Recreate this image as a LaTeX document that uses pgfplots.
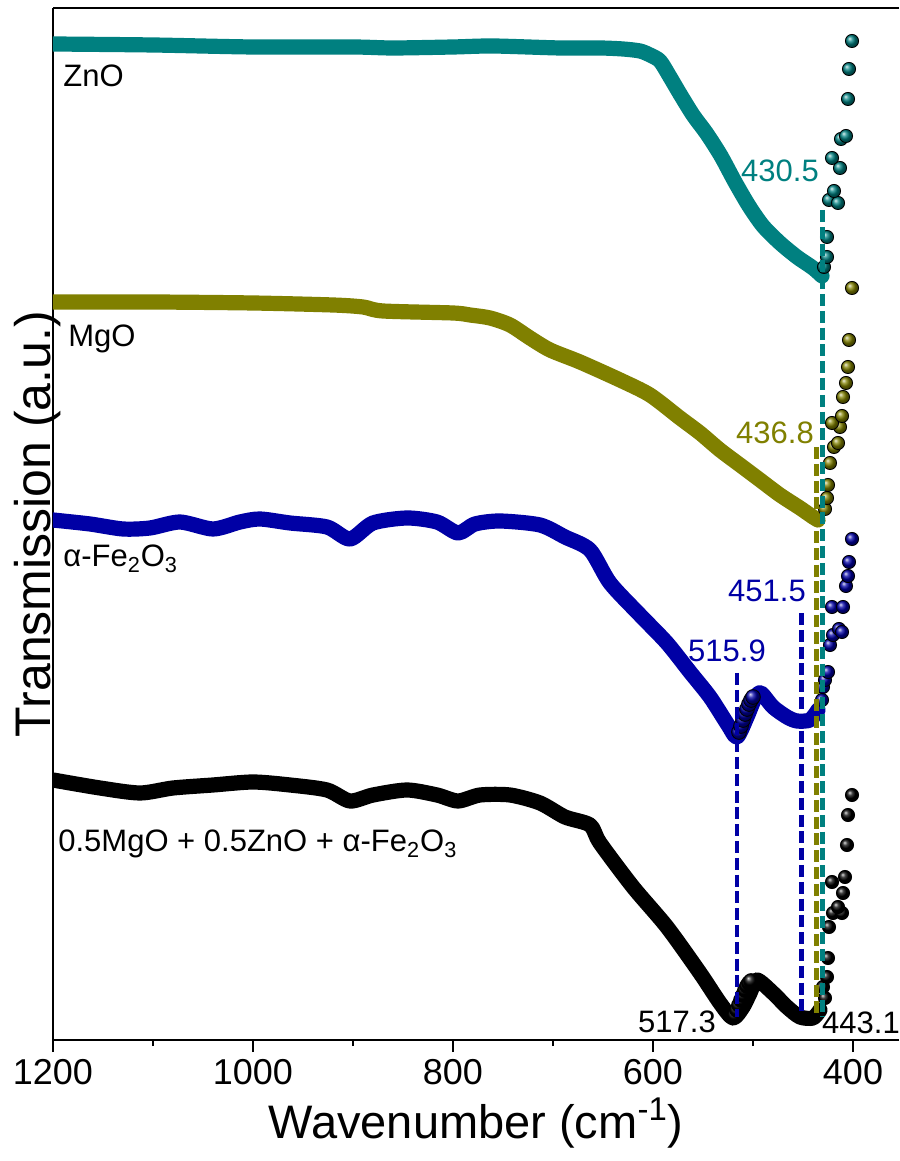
\documentclass[border=0pt]{standalone}
\usepackage{fontspec}
\setmainfont{Liberation Sans}
\usepackage{pgfplots}
\pgfplotsset{compat=1.18}

\definecolor{zno}{RGB}{0,128,128}
\definecolor{mgo}{RGB}{128,128,0}
\definecolor{fe}{RGB}{0,0,165}

\newcommand{\lblfont}{\fontsize{15.5}{17}\selectfont}

\begin{document}
\begin{tikzpicture}
\begin{axis}[
  at={(0,0)}, anchor=south west,
  scale only axis, width=423pt, height=516pt,
  x dir=reverse, xmin=354, xmax=1200, ymin=0, ymax=1032,
  axis x line*=box, axis y line*=left,
  xtick pos=left,
  xtick={400,600,800,1000,1200}, minor xtick={500,700,900,1100},
  ytick=\empty,
  tick align=outside,
  major tick length=6pt, minor tick length=3pt,
  every tick/.style={black, line width=1pt},
  axis line style={line width=1pt},
  /pgf/number format/assume math mode=true,
  /pgf/number format/1000 sep={},
  xticklabel style={font=\fontsize{18}{18}\selectfont},
  xlabel={Wavenumber (cm\textsuperscript{-1})},
  xlabel style={font=\fontsize{23.5}{24}\selectfont},
  ylabel={Transmission (a.u.)},
  ylabel style={font=\fontsize{25}{26}\selectfont, at={(axis description cs:-0.0025,0.5)}, anchor=base},
  clip mode=individual,
  curve/.style={line width=7.6pt, line join=round, line cap=round, smooth, tension=0.45},
  peak/.style={line width=2.3pt, dash pattern=on 6pt off 2.4pt},
  balls/.style={only marks, mark=ball, mark size=3.3pt},
]

% ---- ZnO ----
\addplot[curve, zno] coordinates {
 (1200,996) (1100,995) (1000,993) (900,993) (860,992)
 (800,993) (760,994) (693,992) (653,992) (630,991) (613,989) (603,985)
 (593,979) (583,963) (573,946) (560,925) (546,906) (532,884) (518,858)
 (504,834) (490,814) (473,797) (456,783) (440,772) (431,764)};
\addplot[balls, mark options={ball color=zno}] coordinates {
 (429,773) (426,783) (426,803) (424,840) (415,837) (419,849) (413,872)
 (421,882) (412,901) (407,904) (405,941) (404,971) (401,999)};

% ---- MgO ----
\addplot[curve, mgo] coordinates {
 (1200,738) (1100,738) (1000,737) (920,735) (890,733) (870,729)
 (800,727) (783,725) (763,722) (743,715) (723,702) (703,690) (673,678)
 (633,660) (603,645) (573,622) (553,607) (533,590) (513,575) (493,560)
 (473,545) (453,532) (440,523) (435,520)};
\addplot[balls, mark options={ball color=mgo}] coordinates {
 (428,531) (426,542) (425,555) (423,577) (419,593) (415,597) (413,613)
 (421,617) (411,624) (410,643) (407,657) (405,673) (404,700) (401,752)};

% ---- alpha-Fe2O3 ----
\addplot[curve, fe] coordinates {
 (1200,520) (1163,516) (1130,511) (1103,512) (1073,518) (1040,511)
 (1013,518) (993,521) (963,517) (926,513) (903,501) (880,517) (846,522)
 (816,518) (795,507) (778,516) (753,519) (713,515) (688,503) (663,490)
 (643,457) (613,425) (586,397) (563,368) (543,343) (525,315) (516,303)
 (506,323) (498,342) (492,347) (480,333) (466,323) (456,319) (443,320)
 (435,330)};
\addplot[balls, mark size=3.7pt, mark options={ball color=fe}] coordinates {
 (514,308) (512,314) (510,320) (508,326) (506,331) (504,336) (502,340) (500,343)};
\addplot[balls, mark options={ball color=fe}] coordinates {
 (431,340) (430,353) (428,360) (425,368) (423,395) (420,405) (414,411)
 (411,408) (421,433) (410,433) (407,454) (405,464) (404,478) (401,501)};

% ---- 0.5MgO + 0.5ZnO + alpha-Fe2O3 ----
\addplot[curve, black] coordinates {
 (1200,260) (1153,252) (1113,247) (1080,252) (1040,255) (1000,258)
 (963,255) (926,250) (903,239) (880,245) (846,250) (816,245) (795,239)
 (773,245) (743,245) (713,237) (688,223) (663,215) (653,197) (620,153)
 (586,113) (553,67) (533,37) (520,22) (510,33) (503,47) (496,60)
 (480,47) (466,33) (453,23) (440,22) (433,30)};
\addplot[balls, mark size=3.7pt, mark options={ball color=black}] coordinates {
 (518,25) (516,30) (514,35) (512,40) (510,45) (508,50) (506,54) (504,57) (502,59)};
\addplot[balls, mark options={ball color=black}] coordinates {
 (428,42) (430,53) (426,63) (425,82) (424,113) (420,127) (411,127)
 (415,133) (410,147) (421,158) (408,163) (406,195) (405,225) (401,245)};

% ---- peak markers ----
\addplot[peak, fe]  coordinates {(515.9,367) (515.9,23)};
\addplot[peak, fe]  coordinates {(451.5,427) (451.5,25)};
\addplot[peak, mgo] coordinates {(436.8,593) (436.8,27)};
\addplot[peak, zno] coordinates {(430.5,830) (430.5,23)};

% ---- labels ----
\node[anchor=base west, inner sep=0, font=\lblfont] at (axis cs:1190,953) {ZnO};
\node[anchor=base west, inner sep=0, font=\lblfont] at (axis cs:1185,693) {MgO};
\node[anchor=base west, inner sep=0, font=\lblfont] at (axis cs:1190,473) {α-Fe\textsubscript{2}O\textsubscript{3}};
\node[anchor=base west, inner sep=0, font=\lblfont] at (axis cs:1195,188) {0.5MgO + 0.5ZnO + α-Fe\textsubscript{2}O\textsubscript{3}};

\node[anchor=base, inner sep=0, font=\lblfont, text=zno] at (axis cs:473,858) {430.5};
\node[anchor=base, inner sep=0, font=\lblfont, text=mgo] at (axis cs:478,596) {436.8};
\node[anchor=base, inner sep=0, font=\lblfont, text=fe] at (axis cs:526,378) {515.9};
\node[anchor=base, inner sep=0, font=\lblfont, text=fe] at (axis cs:486,438) {451.5};
\node[anchor=base, inner sep=0, font=\lblfont] at (axis cs:576,8) {517.3};
\node[anchor=base, inner sep=0, font=\lblfont] at (axis cs:392,7) {443.1};
\end{axis}
\pgfresetboundingbox
\path (-26.5pt,-60.5pt) rectangle (423pt,520pt);
\end{tikzpicture}
\end{document}
